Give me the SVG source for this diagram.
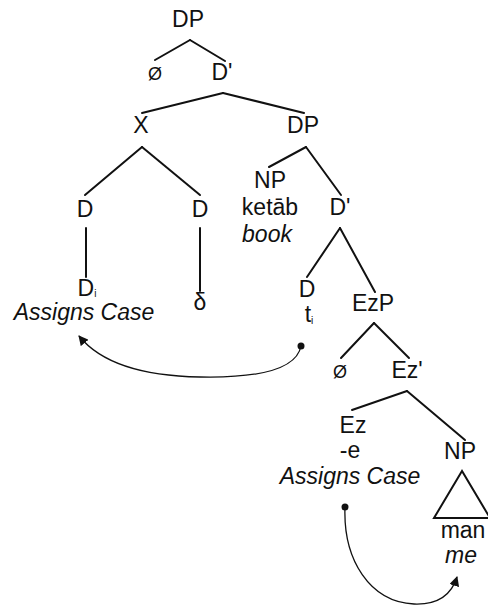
<svg xmlns="http://www.w3.org/2000/svg" width="488" height="608" viewBox="0 0 488 608">
  <style>
    text { font-family: "Liberation Sans", Arial, sans-serif; font-size: 23px; fill: #111; text-anchor: middle; }
    .it { font-style: italic; }
    .sub { font-size: 10px; }
    .null { font-size: 18px; }
    .edge { stroke: #111; stroke-width: 2; fill: none; stroke-linecap: round; }
    .move { stroke: #111; stroke-width: 1.3; fill: none; }
  </style>
  <defs>
    <marker id="arrow" viewBox="0 0 10 10" refX="9" refY="5" markerWidth="10" markerHeight="10" markerUnits="userSpaceOnUse" orient="auto">
      <path d="M0,0 L10,5 L0,10 z" fill="#111"/>
    </marker>
  </defs>

  <rect width="488" height="608" fill="#fff"/>

  <!-- tree branches and movement arrows -->
  <g id="connectors">
    <line class="edge" x1="190" y1="40" x2="155" y2="60"/>
    <line class="edge" x1="190" y1="40" x2="225" y2="61"/>
    <line class="edge" x1="223" y1="93" x2="142" y2="113"/>
    <line class="edge" x1="223" y1="93" x2="304" y2="113"/>
    <line class="edge" x1="142" y1="147" x2="85" y2="195"/>
    <line class="edge" x1="142" y1="147" x2="200" y2="195"/>
    <line class="edge" x1="86" y1="228" x2="86" y2="277"/>
    <line class="edge" x1="200" y1="228" x2="200" y2="291"/>
    <line class="edge" x1="306" y1="147" x2="269" y2="167"/>
    <line class="edge" x1="306" y1="147" x2="341" y2="195"/>
    <line class="edge" x1="340" y1="228" x2="307" y2="277"/>
    <line class="edge" x1="340" y1="228" x2="375" y2="292"/>
    <line class="edge" x1="374" y1="323" x2="341" y2="358"/>
    <line class="edge" x1="374" y1="323" x2="409" y2="358"/>
    <line class="edge" x1="407" y1="391" x2="352" y2="410"/>
    <line class="edge" x1="407" y1="391" x2="465" y2="440"/>
    <!-- NP triangle -->
    <path class="edge" d="M462,471 L434,518 L490,518 Z"/>
    <!-- t_i to D_i -->
    <circle cx="301" cy="346" r="3.5" fill="#111"/>
    <path class="move" d="M301,346 C296,372 250,378 200,377 C140,376 100,362 79,336" marker-end="url(#arrow)"/>
    <!-- -e to NP -->
    <circle cx="345" cy="507" r="3.5" fill="#111"/>
    <path class="move" d="M345,507 C343,560 370,602 414,604 C440,605 452,593 457,577" marker-end="url(#arrow)"/>
  </g>

  <g id="dp-top"><text x="188" y="27">DP</text></g>
  <g id="null-1"><text class="null" x="155" y="80">Ø</text></g>
  <g id="dbar-1"><text x="222" y="80">D'</text></g>
  <g id="x"><text x="141" y="133">X</text></g>
  <g id="dp-2"><text x="303" y="133">DP</text></g>
  <g id="d-left"><text x="85" y="217">D</text></g>
  <g id="d-right"><text x="200" y="217">D</text></g>
  <g id="d-i">
    <text x="87" y="296">D<tspan class="sub" dy="1">i</tspan></text>
    <text class="it" x="84" y="320">Assigns Case</text>
  </g>
  <g id="delta"><text x="200" y="310">δ</text></g>
  <g id="np-1">
    <text x="270" y="188">NP</text>
    <text x="270" y="215">ketāb</text>
    <text class="it" x="267" y="242">book</text>
  </g>
  <g id="dbar-2"><text x="340" y="215">D'</text></g>
  <g id="d-trace">
    <text x="307" y="297">D</text>
    <text x="309" y="322">t<tspan class="sub" dy="2">i</tspan></text>
  </g>
  <g id="ezp"><text x="373" y="311">EzP</text></g>
  <g id="null-2"><text class="null" x="340" y="378">Ø</text></g>
  <g id="ezbar"><text x="407" y="378">Ez'</text></g>
  <g id="ez">
    <text x="353" y="433">Ez</text>
    <text x="350" y="458">-e</text>
    <text class="it" x="350" y="484">Assigns Case</text>
  </g>
  <g id="np-2">
    <text x="460" y="459">NP</text>
    <text x="463" y="538">man</text>
    <text class="it" x="461" y="563">me</text>
  </g>
</svg>
